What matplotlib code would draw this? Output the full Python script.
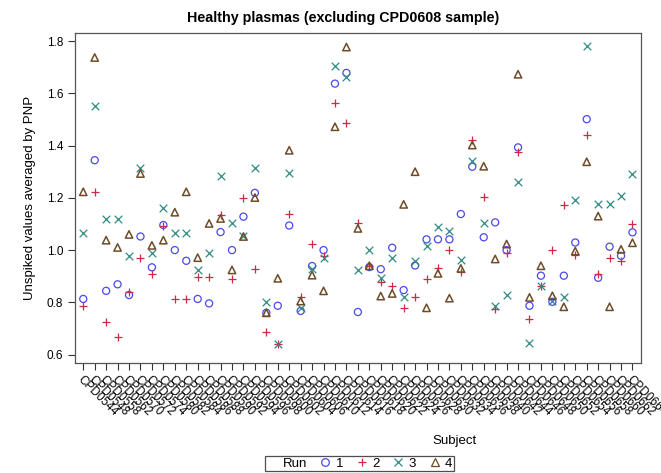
import numpy as np
import matplotlib.pyplot as plt
from matplotlib.lines import Line2D

plt.rcParams['font.family'] = ['Liberation Sans', 'DejaVu Sans']

# subject IDs along the x axis
subjects = ["CPD0544", "CPD0548", "CPD0558", "CPD0562", "CPD0570", "CPD0572", "CPD0574",
            "CPD0580", "CPD0582", "CPD0584", "CPD0586", "CPD0588", "CPD0590", "CPD0592",
            "CPD0594", "CPD0596", "CPD0598", "CPD0600", "CPD0602", "CPD0604", "CPD0606",
            "CPD0610", "CPD0612", "CPD0614", "CPD0616", "CPD0618", "CPD0620", "CPD0622",
            "CPD0624", "CPD0626", "CPD0628", "CPD0630", "CPD0632", "CPD0634", "CPD0636",
            "CPD0638", "CPD0640", "CPD0642", "CPD0644", "CPD0646", "CPD0648", "CPD0650",
            "CPD0652", "CPD0654", "CPD0656", "CPD0658", "CPD0660", "CPD0662", "CPD0664"]

# unspiked values averaged by PNP, one list per run
run1 = [0.813, 1.344, 0.844, 0.869, 0.828, 1.052, 0.934, 1.096, 1.000, 0.959,
        0.813, 0.796, 1.069, 1.000, 1.128, 1.219, 0.760, 0.787, 1.094, 0.767,
        0.939, 1.000, 1.637, 1.678, 0.763, 0.935, 0.927, 1.009, 0.847, 0.941,
        1.041, 1.041, 1.041, 1.138, 1.319, 1.049, 1.106, 1.000, 1.393, 0.787,
        0.902, 0.802, 0.902, 1.029, 1.501, 0.894, 1.013, 0.978, 1.068]
run2 = [0.786, 1.221, 0.726, 0.666, 0.841, 0.968, 0.908, 1.092, 0.813, 0.813,
        0.898, 0.898, 1.133, 0.889, 1.200, 0.926, 0.685, 0.639, 1.139, 0.821,
        1.022, 0.978, 1.563, 1.485, 1.105, 0.938, 0.876, 0.864, 0.777, 0.821,
        0.890, 0.932, 1.000, 0.917, 1.423, 1.204, 0.774, 0.990, 1.374, 0.735,
        0.861, 1.000, 1.172, 0.983, 1.439, 0.907, 0.968, 0.959, 1.098]
run3 = [1.064, 1.551, 1.119, 1.119, 0.978, 1.315, 0.990, 1.161, 1.064, 1.064,
        0.924, 0.990, 1.283, 1.102, 1.052, 1.315, 0.800, 0.639, 1.296, 0.777,
        0.929, 0.971, 1.706, 1.663, 0.922, 1.000, 0.895, 0.971, 0.819, 0.958,
        1.015, 1.089, 1.074, 0.962, 1.340, 1.102, 0.787, 0.828, 1.259, 0.643,
        0.864, 0.805, 0.821, 1.191, 1.780, 1.175, 1.175, 1.208, 1.293]
run4 = [1.223, 1.737, 1.038, 1.010, 1.060, 1.293, 1.018, 1.038, 1.145, 1.223,
        0.971, 1.102, 1.121, 0.924, 1.052, 1.201, 0.760, 0.892, 1.382, 0.805,
        0.904, 0.844, 1.472, 1.777, 1.083, 0.940, 0.824, 0.834, 1.175, 1.300,
        0.779, 0.911, 0.816, 0.930, 1.402, 1.321, 0.966, 1.023, 1.673, 0.819,
        0.940, 0.825, 0.783, 0.996, 1.338, 1.130, 0.783, 1.003, 1.028]
run_labels = ["1", "2", "3", "4"]

x = np.arange(len(subjects))

fig = plt.figure(figsize=(6.61, 4.73), dpi=100)
ax = fig.add_axes([0.1135, 0.2332, 0.8565, 0.6966])

styles = [
    dict(marker='o', facecolors='none', edgecolors='#4a4ae8', s=26, linewidths=0.9),
    dict(marker='+', color='#cc2a45', s=40, linewidths=0.9),
    dict(marker='x', color='#2e8a80', s=30, linewidths=0.9),
    dict(marker='^', facecolors='none', edgecolors='#6e4c28', s=28, linewidths=1.1),
]
for vals, st in zip([run1, run2, run3, run4], styles):
    ax.scatter(x, vals, **st)

ax.set_xlim(-0.72, len(subjects) - 1 + 0.76)
ax.set_ylim(0.569, 1.83)
ax.set_yticks(np.arange(0.6, 1.81, 0.2))
ax.set_yticklabels([f"{v:.1f}" for v in np.arange(0.6, 1.81, 0.2)], fontsize=8.5)
ax.set_xticks(x)
ax.set_xticklabels(subjects, rotation=-45, ha='left', va='top', rotation_mode='anchor', fontsize=8.5)
ax.tick_params(axis='both', direction='out', length=5, width=0.8, color='#333333')
ax.tick_params(axis='x', pad=3)
for sp in ax.spines.values():
    sp.set_color('#555555')
    sp.set_linewidth(0.9)

ax.set_ylabel("Unspiked values averaged by PNP", fontsize=9.5, labelpad=8)
fig.text(343 / 661, 1 - 18 / 473, "Healthy plasmas (excluding CPD0608 sample)",
         fontsize=10.3, fontweight='bold', ha='center', va='center')
fig.text(455 / 661, 1 - 441 / 473, "Subject", fontsize=9.5, ha='center', va='center')

# legend row along the bottom edge
handles = [Line2D([], [], linestyle='none')]
for st in styles:
    m = st['marker']
    c = st.get('edgecolors', st.get('color'))
    handles.append(Line2D([], [], linestyle='none', marker=m, markersize=5.5,
                          markerfacecolor='none', markeredgecolor=c, markeredgewidth=0.9))
leg = fig.legend(handles, ["Run"] + run_labels, loc='upper center', ncol=5,
                 bbox_to_anchor=(0.544, 1 - 456 / 473), fontsize=9.5, frameon=True,
                 fancybox=False, edgecolor='#222222', handlelength=0.8, handletextpad=0.4,
                 columnspacing=1.0, borderpad=0.1, borderaxespad=0)
leg.get_frame().set_linewidth(0.9)

fig.savefig("out.png", dpi=100)
